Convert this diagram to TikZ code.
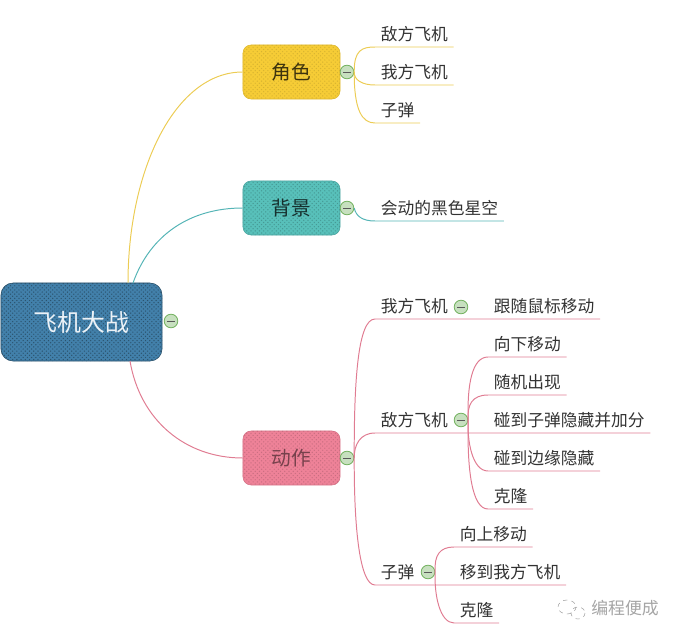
\documentclass[tikz,border=0pt]{standalone}
\usepackage{fontspec}
\setmainfont{Noto Sans CJK SC}
\usepackage{xcolor}
\definecolor{mmblue}{RGB}{66,128,170}
\definecolor{mmyellow}{RGB}{246,204,54}
\definecolor{mmteal}{RGB}{88,192,186}
\definecolor{mmpink}{RGB}{238,130,152}
\definecolor{mmyline}{RGB}{236,204,84}
\definecolor{mmtline}{RGB}{84,180,182}
\definecolor{mmpline}{RGB}{224,124,146}
\definecolor{mmgreen}{RGB}{116,178,96}
\definecolor{mmtext}{RGB}{50,50,50}
\definecolor{mmmark}{RGB}{165,165,165}
\usetikzlibrary{arrows.meta,positioning,calc,patterns}

\begin{document}
\begin{tikzpicture}[
  x=0.025cm, y=-0.025cm,
  every node/.style={text=mmtext},
  topicbox/.style={draw,rounded corners=0.2cm,minimum width=2.425cm,minimum height=1.35cm,
                   inner sep=0pt,font=\fontsize{14}{16}\selectfont},
  rootbox/.style={draw=mmblue!60!black,fill=mmblue,rounded corners=0.3cm,minimum width=4.025cm,minimum height=1.95cm,
                  inner sep=0pt,text=white!90!mmblue,font=\fontsize{17}{20}\selectfont},
  leaf/.style={anchor=south west,inner xsep=0.14cm,inner ysep=1.5pt,text height=0.33cm,text depth=0.1cm,
               font=\fontsize{11.9}{14}\selectfont},
  hub/.style={circle,draw=mmgreen,fill=mmgreen!40,line width=0.6pt,minimum size=0.34cm,inner sep=0pt,
              path picture={\draw[black!65,line width=0.5pt] ([xshift=-0.09cm]path picture bounding box.center)
                            -- ([xshift=0.09cm]path picture bounding box.center);}},
  yline/.style={draw=mmyline,line width=0.7pt},
  tline/.style={draw=mmtline,line width=0.7pt},
  pline/.style={draw=mmpline,line width=0.7pt},
]
  \useasboundingbox (0,0) rectangle (680,638);

  % Root
  \node[rootbox,postaction={pattern=crosshatch dots,pattern color=mmblue!65!black}] (root) at (81.5,322) {飞机大战};
  \node[hub] (rhub) at (171,321) {};
  \coordinate (rootyellow) at (128,283);
  \coordinate (rootteal) at (133,283);
  \coordinate (rootpink) at (130,361);

  % Topics
  \node[topicbox,fill=mmyellow,draw=mmyellow!90!black,text=black!75!mmyellow,
        postaction={pattern=crosshatch dots,pattern color=mmyellow!88!black}] (role) at (291.5,72) {角色};
  \node[topicbox,fill=mmteal,draw=mmteal!85!black,text=black!75!mmteal,
        postaction={pattern=crosshatch dots,pattern color=mmteal!80!black}] (scene) at (291.5,208) {背景};
  \node[topicbox,fill=mmpink,draw=mmpink!90!black,text=black!50!mmpink,
        postaction={pattern=crosshatch dots,pattern color=mmpink!85!black}] (action) at (291.5,458) {动作};
  \node[hub] (rolehub) at (347,72) {};
  \node[hub] (scenehub) at (347,208) {};
  \node[hub] (actionhub) at (347,458) {};
  \draw[yline] (rootyellow) .. controls (128,170) and (175,72) .. (role.west);
  \draw[tline] (rootteal) .. controls (150,235) and (190,208) .. (scene.west);
  \draw[pline] (rootpink) .. controls (140,420) and (185,458) .. (action.west);

  % Roles
  \node[leaf] (enemy) at (375,47) {敌方飞机};
  \node[leaf] (hero) at (375,85) {我方飞机};
  \node[leaf] (bullet) at (375,123) {子弹};
  \draw[yline] (rolehub.east) .. controls (354,50) and (362,47) .. (enemy.south west) -- (enemy.south east);
  \draw[yline] (rolehub.east) .. controls (354,80) and (362,85) .. (hero.south west) -- (hero.south east);
  \draw[yline] (rolehub.east) .. controls (354,110) and (362,123) .. (bullet.south west) -- (bullet.south east);

  % Scene
  \node[leaf] (stars) at (375,221) {会动的黑色星空};
  \draw[tline] (scenehub.east) .. controls (356,216) and (362,221) .. (stars.south west) -- (stars.south east);

  % Actions
  \node[leaf] (acthero) at (375,319) {我方飞机};
  \node[hub] (herohub) at (461,307) {};
  \node[leaf] (follow) at (488,319) {跟随鼠标移动};
  \node[leaf] (actenemy) at (375,433) {敌方飞机};
  \node[hub] (enemyhub) at (461,420) {};
  \node[leaf] (down) at (488,357) {向下移动};
  \node[leaf] (random) at (488,395) {随机出现};
  \node[leaf] (hitbullet) at (488,433) {碰到子弹隐藏并加分};
  \node[leaf] (hitedge) at (488,471) {碰到边缘隐藏};
  \node[leaf] (enemyclone) at (488,509) {克隆};
  \node[leaf] (actbullet) at (375,585) {子弹};
  \node[hub] (bullethub) at (428,572) {};
  \node[leaf] (up) at (454,547) {向上移动};
  \node[leaf] (tohero) at (454,585) {移到我方飞机};
  \node[leaf] (bulletclone) at (454,623) {克隆};

  \draw[pline] (actionhub.east) .. controls (354,380) and (358,319) .. (acthero.south west) -- (follow.south east);
  \draw[pline] (actionhub.east) .. controls (354,445) and (360,433) .. (actenemy.south west) -- (hitbullet.south east);
  \draw[pline] (actionhub.east) .. controls (354,530) and (360,585) .. (actbullet.south west) -- (tohero.south east);

  \draw[pline] (enemyhub.east) .. controls (467,385) and (472,357) .. (down.south west) -- (down.south east);
  \draw[pline] (enemyhub.east) .. controls (467,405) and (472,395) .. (random.south west) -- (random.south east);
  \draw[pline] (enemyhub.east) .. controls (467,440) and (472,471) .. (hitedge.south west) -- (hitedge.south east);
  \draw[pline] (enemyhub.east) .. controls (467,470) and (472,509) .. (enemyclone.south west) -- (enemyclone.south east);

  \draw[pline] (bullethub.east) .. controls (434,555) and (440,547) .. (up.south west) -- (up.south east);
  \draw[pline] (bullethub.east) .. controls (434,595) and (440,623) .. (bulletclone.south west) -- (bulletclone.south east);

  % Mark
  \draw[mmmark,dashed,line width=0.4pt] (567,607) ellipse (9 and 7);
  \draw[mmmark,dashed,line width=0.4pt] (578,613) ellipse (7 and 6);
  \node[text=mmmark,inner sep=0pt,font=\fontsize{12}{14}\selectfont] (mark) at (625,608) {编程便成};
\end{tikzpicture}
\end{document}
